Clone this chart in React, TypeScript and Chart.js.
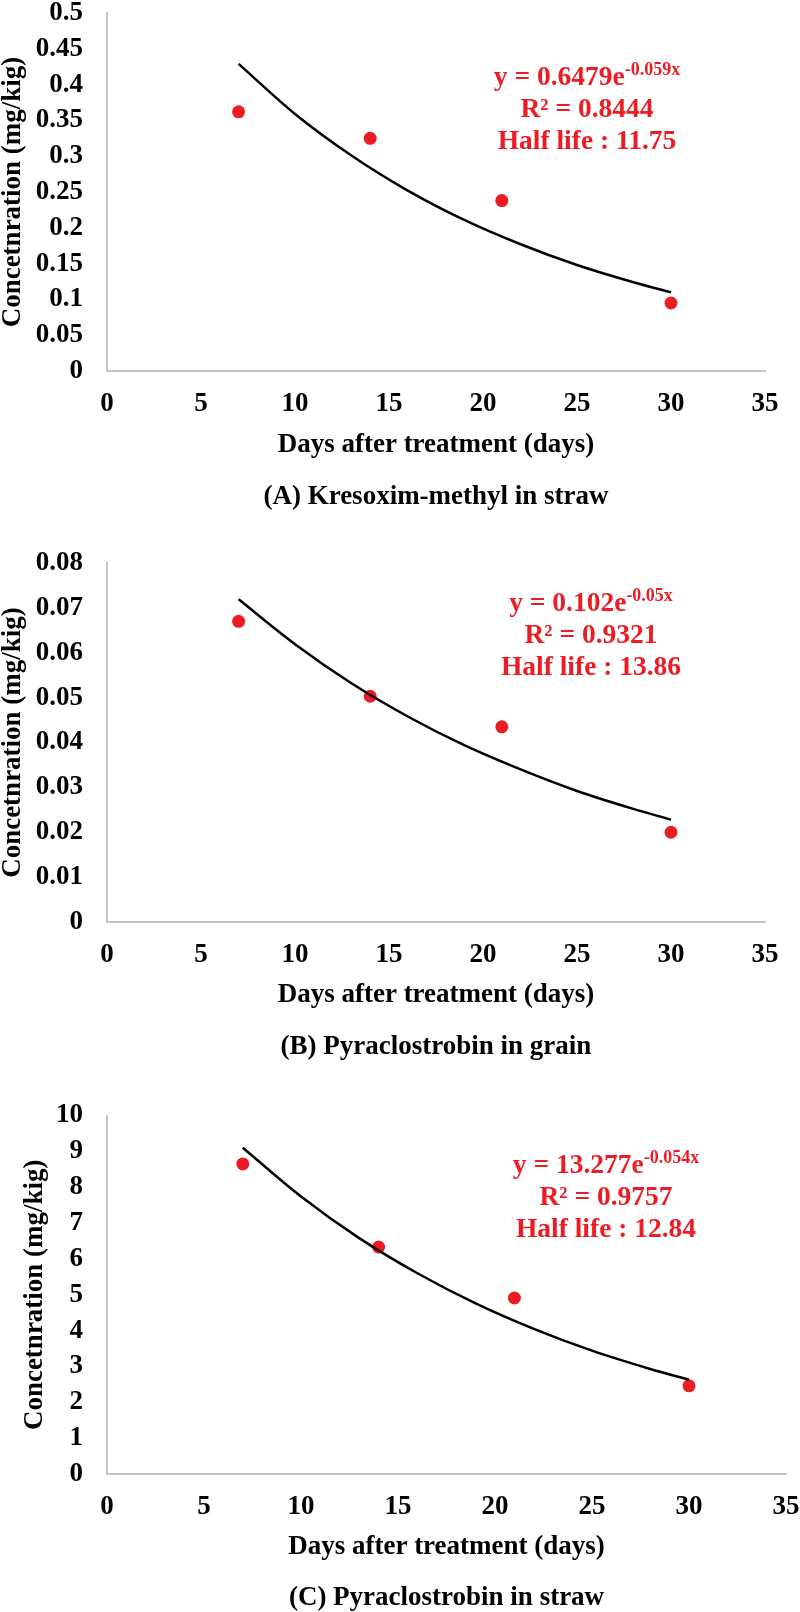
import React, { useEffect, useRef } from "react";
import { Chart, registerables } from "chart.js";

Chart.register(...registerables);

// ---------------- data ----------------
const xTickLabels = ["0", "5", "10", "15", "20", "25", "30", "35"];
const sampleDays = [7, 14, 21, 30];

const kresoximStraw = [0.362, 0.325, 0.238, 0.095];
const pyraclostrobinGrain = [0.067, 0.0503, 0.0435, 0.02];
const pyraclostrobinStraw = [8.65, 6.33, 4.91, 2.46];

// trend curves
const trendDays = [7, 10, 13, 16, 19, 22, 25, 28, 30];
const trendA = [0.429, 0.359, 0.301, 0.252, 0.211, 0.177, 0.148, 0.124, 0.11];
const trendB = [0.0719, 0.0619, 0.0532, 0.0458, 0.0394, 0.034, 0.0292, 0.0252, 0.0228];
const trendC = [9.1, 7.74, 6.58, 5.6, 4.76, 4.05, 3.44, 2.93, 2.63];

const yTicksA = ["0", "0.05", "0.1", "0.15", "0.2", "0.25", "0.3", "0.35", "0.4", "0.45", "0.5"];
const yTicksB = ["0", "0.01", "0.02", "0.03", "0.04", "0.05", "0.06", "0.07", "0.08"];
const yTicksC = ["0", "1", "2", "3", "4", "5", "6", "7", "8", "9", "10"];

const equationA = ["y = 0.6479e", "-0.059x", "R² = 0.8444", "Half life : 11.75"];
const equationB = ["y = 0.102e", "-0.05x", "R² = 0.9321", "Half life : 13.86"];
const equationC = ["y = 13.277e", "-0.054x", "R² = 0.9757", "Half life : 12.84"];

const captionA = "(A) Kresoxim-methyl in straw";
const captionB = "(B) Pyraclostrobin in grain";
const captionC = "(C) Pyraclostrobin in straw";

const xTitle = "Days after treatment (days)";
const yTitle = "Concetnration (mg/kig)";

// ---------------- styles ----------------
const FONT = '"Liberation Serif", "Times New Roman", Times, serif';
const RED = "#ec1c24";
const AXIS = "#c4c4c4";

const annotatePlugin = {
  id: "annotate",
  afterDraw(chart: any, _args: any, opts: any) {
    const { ctx, chartArea } = chart;
    const eq: string[] = opts.equation;
    const ys: number[] = opts.eqY;
    ctx.save();
    ctx.fillStyle = RED;
    ctx.textBaseline = "alphabetic";
    const mainFont = `bold 27.5px ${FONT}`;
    const supFont = `bold 18px ${FONT}`;
    ctx.font = mainFont;
    const w1 = ctx.measureText(eq[0]).width;
    ctx.font = supFont;
    const w2 = ctx.measureText(eq[1]).width;
    const x0 = opts.eqX - (w1 + w2) / 2;
    ctx.textAlign = "left";
    ctx.font = mainFont;
    ctx.fillText(eq[0], x0, ys[0]);
    ctx.font = supFont;
    ctx.fillText(eq[1], x0 + w1, ys[0] - 10);
    ctx.font = mainFont;
    ctx.textAlign = "center";
    ctx.fillText(eq[2], opts.eqX, ys[1]);
    ctx.fillText(eq[3], opts.eqX, ys[2]);

    // caption
    ctx.fillStyle = "#000";
    ctx.textBaseline = "middle";
    ctx.textAlign = "center";
    ctx.font = `bold 27px ${FONT}`;
    ctx.fillText(opts.caption, (chartArea.left + chartArea.right) / 2, opts.captionY);
    ctx.restore();
  },
};

type PanelProps = {
  top: number;
  height: number;
  plotTop: number;
  plotBottom: number;
  plotRight: number;
  yMax: number;
  yStep: number;
  yLabels: string[];
  values: number[];
  trend: number[];
  equation: string[];
  eqX: number;
  eqY: number[];
  caption: string;
  captionY: number;
  xTitleY: number;
  yTitlePad: number;
};

function Panel(p: PanelProps) {
  const ref = useRef<HTMLCanvasElement | null>(null);
  useEffect(() => {
    if (!ref.current) return;
    const tickFont = { family: FONT, size: 27, weight: "bold" as const, lineHeight: 1 };
    const chart = new Chart(ref.current, {
      type: "scatter",
      data: {
        datasets: [
          {
            label: "trend",
            data: trendDays.map((x, i) => ({ x, y: p.trend[i] })),
            showLine: true,
            borderColor: "#000",
            borderWidth: 2.5,
            pointRadius: 0,
            cubicInterpolationMode: "monotone",
            fill: false,
          } as any,
          {
            label: "measured",
            data: sampleDays.map((x, i) => ({ x, y: p.values[i] })),
            backgroundColor: RED,
            borderWidth: 0,
            pointRadius: 6.5,
          },
        ],
      },
      options: {
        responsive: false,
        animation: false,
        events: [],
        layout: {
          padding: { top: p.plotTop, left: 0, right: 800 - p.plotRight, bottom: 0 },
        },
        plugins: {
          legend: { display: false },
          tooltip: { enabled: false },
          title: { display: false },
          annotate: {
            equation: p.equation,
            eqX: p.eqX,
            eqY: p.eqY,
            caption: p.caption,
            captionY: p.captionY,
          },
        } as any,
        scales: {
          x: {
            type: "linear",
            min: 0,
            max: 35,
            grid: { display: false, drawTicks: false },
            border: { display: true, color: AXIS, width: 2 },
            ticks: {
              stepSize: 5,
              autoSkip: false,
              maxRotation: 0,
              padding: 20,
              color: "#000",
              font: tickFont,
              callback: (_v: any, i: number) => xTickLabels[i],
            },
            title: {
              display: true,
              text: xTitle,
              color: "#000",
              font: tickFont,
              padding: { top: 0, bottom: p.height - p.xTitleY - 13.5 },
            },
            afterFit: (s: any) => {
              s.height = p.height - p.plotBottom;
              s.paddingLeft = 0;
              s.paddingRight = 0;
            },
          },
          y: {
            type: "linear",
            min: 0,
            max: p.yMax,
            grid: { display: false, drawTicks: false },
            border: { display: true, color: AXIS, width: 2 },
            ticks: {
              stepSize: p.yStep,
              autoSkip: false,
              padding: 24,
              color: "#000",
              font: tickFont,
              callback: (_v: any, i: number) => p.yLabels[i],
            },
            title: {
              display: true,
              text: yTitle,
              color: "#000",
              font: tickFont,
              padding: { top: p.yTitlePad, bottom: 0 },
            },
            afterFit: (s: any) => {
              s.width = 107;
              s.paddingTop = 0;
              s.paddingBottom = 0;
            },
          },
        },
      },
      plugins: [annotatePlugin],
    });
    return () => chart.destroy();
  }, []);
  return (
    <canvas
      ref={ref}
      width={800}
      height={p.height}
      style={{ position: "absolute", left: 0, top: p.top, width: 800, height: p.height, display: "block" }}
    />
  );
}

export default function App() {
  return (
    <div style={{ position: "absolute", left: 0, top: 0, width: 800, height: 1612, background: "#fff" }}>
      <Panel
        top={0}
        height={520}
        plotTop={13}
        plotBottom={371}
        plotRight={765}
        yMax={0.5}
        yStep={0.05}
        yLabels={yTicksA}
        values={kresoximStraw}
        trend={trendA}
        equation={equationA}
        eqX={587}
        eqY={[85, 117, 149]}
        caption={captionA}
        captionY={497}
        xTitleY={445}
        yTitlePad={0}
      />
      <Panel
        top={520}
        height={540}
        plotTop={43}
        plotBottom={402}
        plotRight={765}
        yMax={0.08}
        yStep={0.01}
        yLabels={yTicksB}
        values={pyraclostrobinGrain}
        trend={trendB}
        equation={equationB}
        eqX={591}
        eqY={[91, 123, 155]}
        caption={captionB}
        captionY={527}
        xTitleY={475}
        yTitlePad={0}
      />
      <Panel
        top={1060}
        height={552}
        plotTop={55.5}
        plotBottom={414}
        plotRight={786}
        yMax={10}
        yStep={1}
        yLabels={yTicksC}
        values={pyraclostrobinStraw}
        trend={trendC}
        equation={equationC}
        eqX={606}
        eqY={[113, 145, 177]}
        caption={captionC}
        captionY={538}
        xTitleY={487}
        yTitlePad={21.5}
      />
    </div>
  );
}
